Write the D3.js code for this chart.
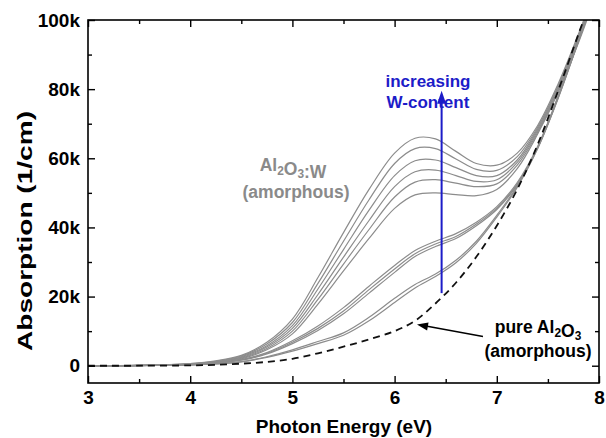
<!DOCTYPE html>
<html><head><meta charset="utf-8">
<script src="https://cdn.jsdelivr.net/npm/d3@7"></script>
<style>
body{margin:0;background:#fff}
svg{display:block}
text{font-family:Arial,"Liberation Sans",sans-serif;font-weight:bold}
</style>
</head><body>
<svg id="c" width="606" height="438"></svg>
<script>
// Photon energy grid (eV)
const energy = [3.0,3.5,4.0,4.25,4.5,4.75,5.0,5.25,5.5,5.75,6.0,6.2,6.4,6.6,6.8,7.0,7.2,7.4,7.6,7.8,7.9];
// Absorption (k 1/cm) — Al2O3:W samples, upper group (peak), lowest to highest W
const upper1 = [0,0.1,0.4,0.9,2.0,4.6,9.2,17.8,27.4,36.8,45.5,49.4,50.0,49.5,49.2,51.0,57.0,67.0,79.0,93.5,101.5];
const upper2 = [0,0.1,0.5,1.0,2.2,5.0,10.0,19.2,29.4,39.4,48.8,53.1,53.8,52.8,51.8,52.6,58.0,67.5,79.5,94.0,102.0];
const upper3 = [0,0.1,0.5,1.1,2.4,5.4,10.8,20.6,31.4,42.0,51.8,56.1,56.6,55.0,53.3,53.8,58.8,68.0,80.0,94.5,102.5];
const upper4 = [0,0.1,0.5,1.2,2.6,5.8,11.6,22.2,33.6,45.0,55.0,59.3,59.5,57.3,55.0,55.0,59.5,68.5,80.5,95.0,103.0];
const upper5 = [0,0.1,0.6,1.3,2.8,6.3,12.5,23.8,36.0,48.0,58.5,62.8,62.8,59.8,56.8,56.5,60.5,69.0,81.0,95.5,103.5];
const upper6 = [0,0.1,0.6,1.4,3.0,6.8,13.5,25.5,38.5,51.0,61.5,65.8,65.6,62.0,58.5,58.0,61.5,69.5,81.5,96.0,104.0];
// middle group (shoulder)
const middle1 = [0,0.05,0.3,0.7,1.6,3.4,6.4,10.2,15.0,21.0,27.0,31.6,34.5,36.8,40.5,45.2,52.3,63.0,77.6,94.1,102.6];
const middle2 = [0,0.05,0.3,0.75,1.7,3.6,6.8,10.8,15.8,22.0,28.0,32.4,35.2,37.4,41.0,45.6,52.6,63.2,77.8,94.3,102.8];
const middle3 = [0,0.05,0.3,0.8,1.8,3.8,7.2,11.5,16.8,23.0,29.0,33.3,36.0,38.2,41.5,46.0,53.0,63.5,78.0,94.5,103.0];
// lower group
const lower1 = [0,0.05,0.2,0.5,1.1,2.4,4.2,6.4,8.8,13.0,18.3,22.5,25.8,29.8,35.4,43.0,51.6,62.8,77.3,93.9,102.3];
const lower2 = [0,0.05,0.2,0.5,1.2,2.6,4.6,7.0,9.5,14.0,19.5,23.5,26.5,30.5,36.0,43.5,52.0,63.0,77.5,94.0,102.5];
// pure Al2O3 (amorphous)
const pure = [0,0,0.1,0.25,0.6,1.1,2.0,3.6,5.5,7.6,10.0,13.0,18.0,24.0,31.5,40.5,51.0,64.0,79.5,96.0,104.0];

const dopedSeries = [upper1,upper2,upper3,upper4,upper5,upper6,middle1,middle2,middle3,lower1,lower2];

const xTicks = [3,4,5,6,7,8];
const xMinor = [3.5,4.5,5.5,6.5,7.5];
const yTicks = [0,20000,40000,60000,80000,100000];
const yTickLabels = ["0","20k","40k","60k","80k","100k"];
const yMinor = [10000,30000,50000,70000,90000];

const arrowE = 6.46, arrowFrom = 21000, arrowTo = 79500;

const svg = d3.select("#c");
const L=88, R=599, T=20, B=383;
const x = d3.scaleLinear().domain([3,8]).range([L,R]);
const y = d3.scaleLinear().domain([-5000,100000]).range([B,T]);

svg.append("clipPath").attr("id","clip").append("rect")
  .attr("x",L).attr("y",T).attr("width",R-L).attr("height",B-T);

const line = d3.line()
  .x((d,i)=>x(energy[i]))
  .y(d=>y(d*1000))
  .curve(d3.curveCatmullRom.alpha(0.5));

const g = svg.append("g").attr("clip-path","url(#clip)");
g.selectAll("path.doped").data(dopedSeries).join("path")
  .attr("class","doped")
  .attr("d",line).attr("fill","none")
  .attr("stroke","#8c8c8c").attr("stroke-width",1.2);
g.append("path").datum(pure).attr("d",line).attr("fill","none")
  .attr("stroke","#111").attr("stroke-width",1.8).attr("stroke-dasharray","7,5");

// axes
function styleAxis(sel){
  sel.select(".domain").remove();
  sel.selectAll("line").attr("stroke","#000").attr("stroke-width",1.4);
  sel.selectAll("text").attr("font-size",19).attr("fill","#000")
     .attr("font-family",'Arial,"Liberation Sans",sans-serif').attr("font-weight","bold");
}
svg.append("g").attr("transform",`translate(0,${B})`)
  .call(d3.axisBottom(x).tickValues(xTicks).tickSizeInner(-7).tickSizeOuter(0).tickPadding(8).tickFormat(d3.format("d")))
  .call(styleAxis);
svg.append("g").attr("transform",`translate(0,${B})`)
  .call(d3.axisBottom(x).tickValues(xMinor).tickSizeInner(-4).tickSizeOuter(0).tickFormat(""))
  .call(styleAxis);
svg.append("g").attr("transform",`translate(0,${T})`)
  .call(d3.axisTop(x).tickValues(xTicks).tickSizeInner(-7).tickSizeOuter(0).tickFormat(""))
  .call(styleAxis);
svg.append("g").attr("transform",`translate(0,${T})`)
  .call(d3.axisTop(x).tickValues(xMinor).tickSizeInner(-4).tickSizeOuter(0).tickFormat(""))
  .call(styleAxis);
svg.append("g").attr("transform",`translate(${L},0)`)
  .call(d3.axisLeft(y).tickValues(yTicks).tickSizeInner(-7).tickSizeOuter(0).tickPadding(8)
    .tickFormat((d,i)=>yTickLabels[i]))
  .call(styleAxis);
svg.append("g").attr("transform",`translate(${L},0)`)
  .call(d3.axisLeft(y).tickValues(yMinor).tickSizeInner(-4).tickSizeOuter(0).tickFormat(""))
  .call(styleAxis);
svg.append("g").attr("transform",`translate(${R},0)`)
  .call(d3.axisRight(y).tickValues(yTicks).tickSizeInner(-7).tickSizeOuter(0).tickFormat(""))
  .call(styleAxis);
svg.append("g").attr("transform",`translate(${R},0)`)
  .call(d3.axisRight(y).tickValues(yMinor).tickSizeInner(-4).tickSizeOuter(0).tickFormat(""))
  .call(styleAxis);

svg.append("rect").attr("x",L).attr("y",T).attr("width",R-L).attr("height",B-T)
  .attr("fill","none").attr("stroke","#000").attr("stroke-width",1.6);

// axis titles
svg.append("text").attr("x",344).attr("y",433).attr("text-anchor","middle")
  .attr("font-size",19).text("Photon Energy (eV)");
svg.append("text").attr("transform","translate(32,231) rotate(-90)").attr("text-anchor","middle")
  .attr("font-size",19.5).attr("textLength",240).attr("lengthAdjust","spacingAndGlyphs")
  .text("Absorption (1/cm)");

// blue arrow
const blue = "#1c1cc8";
const ax = x(arrowE), ay0 = y(arrowFrom), ay1 = y(arrowTo);
svg.append("line").attr("x1",ax).attr("x2",ax).attr("y1",ay0).attr("y2",ay1+10)
  .attr("stroke",blue).attr("stroke-width",2);
svg.append("path").attr("d",`M${ax},${ay1} L${ax-4.5},${ay1+13} L${ax+4.5},${ay1+13} Z`).attr("fill",blue);
svg.append("text").attr("x",428).attr("y",87).attr("text-anchor","middle")
  .attr("font-size",17).attr("fill",blue).text("increasing");
svg.append("text").attr("x",428).attr("y",108).attr("text-anchor","middle")
  .attr("font-size",17).attr("fill",blue).text("W-content");

// gray label
const gray = "#8a8a8a";
function formula(t, parts, size){
  parts.forEach(p=>{
    if(p.sub){ t.append("tspan").attr("dy",3.5).attr("font-size",size*0.68).text(p.s);
               t.append("tspan").attr("dy",-3.5).text(""); }
    else t.append("tspan").text(p.s);
  });
}
const t1 = svg.append("text").attr("x",293).attr("y",171).attr("text-anchor","middle")
  .attr("font-size",17.5).attr("fill",gray);
formula(t1,[{s:"Al"},{s:"2",sub:true},{s:"O"},{s:"3",sub:true},{s:":W"}],17.5);
svg.append("text").attr("x",296).attr("y",198).attr("text-anchor","middle")
  .attr("font-size",17.5).attr("fill",gray).text("(amorphous)");

// pure label
const t2 = svg.append("text").attr("x",538).attr("y",333).attr("text-anchor","middle")
  .attr("font-size",17.5).attr("fill","#000");
formula(t2,[{s:"pure Al"},{s:"2",sub:true},{s:"O"},{s:"3",sub:true}],17.5);
svg.append("text").attr("x",538).attr("y",357).attr("text-anchor","middle")
  .attr("font-size",17.5).attr("fill","#000").text("(amorphous)");
// black pointer arrow
const px1 = 483, py1 = 336.5, px0 = 417, py0 = 324.5;
const ang = Math.atan2(py0-py1, px0-px1);
svg.append("line").attr("x1",px1).attr("y1",py1)
  .attr("x2",px0-9*Math.cos(ang)).attr("y2",py0-9*Math.sin(ang))
  .attr("stroke","#000").attr("stroke-width",1.5);
const hx = px0, hy = py0, bl = 11, bw = 4;
const bx = hx-bl*Math.cos(ang), by = hy-bl*Math.sin(ang);
svg.append("path").attr("d",`M${hx},${hy} L${bx+bw*Math.sin(ang)},${by-bw*Math.cos(ang)} L${bx-bw*Math.sin(ang)},${by+bw*Math.cos(ang)} Z`)
  .attr("fill","#000");
</script>
</body></html>
